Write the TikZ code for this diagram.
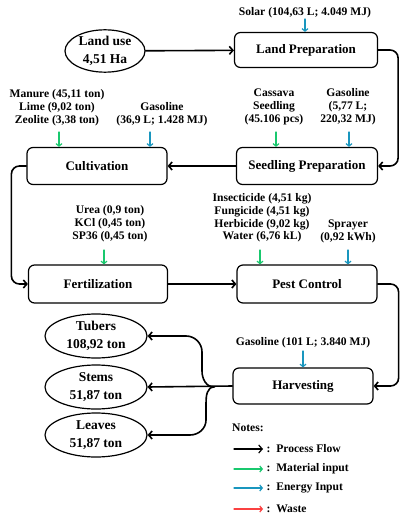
\documentclass[tikz,border=0pt]{standalone}
\usepackage{fontspec}
\setmainfont{Liberation Serif}
\usetikzlibrary{arrows.meta,shapes.geometric}
\definecolor{matgreen}{RGB}{25,200,110}
\definecolor{engblue}{RGB}{25,150,190}
\definecolor{wastered}{RGB}{250,65,65}
\tikzset{
	box/.style={draw,line width=1.2pt,rounded corners=6pt,minimum width=141pt,minimum height=37pt,font=\fontsize{13}{15}\selectfont\bfseries},
	ell/.style={draw,ellipse,line width=1.2pt,minimum width=102pt,minimum height=44pt,align=center,inner sep=0pt,font=\fontsize{13.5}{18.5}\selectfont\bfseries},
	lbl/.style={align=center,inner sep=0pt,font=\fontsize{11.6}{12.8}\selectfont\bfseries},
	flow/.style={line width=1.6pt,-{Straight Barb[length=3.5pt,width=8pt]}},
	matin/.style={matgreen,line width=1.2pt,-{Straight Barb[length=2.5pt,width=6pt]}},
	enin/.style={engblue,line width=1.2pt,-{Straight Barb[length=2.5pt,width=6pt]}},
	wst/.style={wastered,line width=1.2pt,-{Straight Barb[length=2.5pt,width=6pt]}}
}
\begin{document}
\begin{tikzpicture}[x=1pt,y=-1pt,line join=round,line cap=round]
	\useasboundingbox (0,0) rectangle (401,518);
	%%% process boxes
	\node[ell,minimum width=80pt,minimum height=40pt] (land) at (105,51) {Land use\\4,51 Ha};
	\node[box,minimum width=143pt,minimum height=35pt] (prep) at (306,50) {Land Preparation};
	\node[box] (seed) at (307,166) {Seedling Preparation};
	\node[box,minimum width=140pt] (cult) at (97,166) {Cultivation};
	\node[box,minimum width=139pt,minimum height=38pt] (fert) at (98,284) {Fertilization};
	\node[box,minimum width=140pt,minimum height=38pt] (pest) at (307,284) {Pest Control};
	\node[box,minimum width=140pt,minimum height=36pt] (harv) at (303,386) {Harvesting};
	%%% products
	\node[ell] (tub) at (96,336) {Tubers\\108,92 ton};
	\node[ell] (stm) at (96,387) {Stems\\51,87 ton};
	\node[ell] (leaf) at (96,435) {Leaves\\51,87 ton};
	%%% inputs
	\node[lbl] (solar) at (305,13) {Solar (104,63 L; 4.049 MJ)};
	\node[lbl] (manure) at (57,108) {Manure (45,11 ton)\\Lime (9,02 ton)\\Zeolite (3,38 ton)};
	\node[lbl] (gascult) at (162,114) {Gasoline\\(36,9 L; 1.428 MJ)};
	\node[lbl] (cassava) at (274,107) {Cassava\\Seedling\\(45.106 pcs)};
	\node[lbl] (gasseed) at (348,107) {Gasoline\\(5,77 L;\\220,32 MJ)};
	\node[lbl] (urea) at (110,224) {Urea (0,9 ton)\\KCl (0,45 ton)\\SP36 (0,45 ton)};
	\node[lbl] (insect) at (262,218) {Insecticide (4,51 kg)\\Fungicide (4,51 kg)\\Herbicide (9,02 kg)\\Water (6,76 kL)};
	\node[lbl] (spray) at (348,231) {Sprayer\\(0,92 kWh)};
	\node[lbl] (gasharv) at (303,343) {Gasoline (101 L; 3.840 MJ)};
	%%% input arrows
	\coordinate (a1) at (305,19);
	\coordinate (a2) at (59,132);
	\coordinate (a3) at (150,132);
	\coordinate (a4) at (276,132);
	\coordinate (a5) at (349,132);
	\coordinate (a6) at (104,250);
	\coordinate (a7) at (260,250);
	\coordinate (a8) at (348,250);
	\coordinate (a9) at (303,351);
	\draw[enin] (a1)--(a1|-prep.north);
	\draw[matin] (a2)--(a2|-cult.north);
	\draw[enin] (a3)--(a3|-cult.north);
	\draw[matin] (a4)--(a4|-seed.north);
	\draw[enin] (a5)--(a5|-seed.north);
	\draw[matin] (a6)--(a6|-fert.north);
	\draw[matin] (a7)--(a7|-pest.north);
	\draw[enin] (a8)--(a8|-pest.north);
	\draw[enin] (a9)--(a9|-harv.north);
	%%% process flow
	\draw[flow] (land)--(prep);
	\draw[flow,rounded corners=8pt] (prep.east)--++(20,0)|-(seed.east);
	\draw[flow] (seed)--(cult);
	\draw[flow,rounded corners=8pt] (cult.west)--++(-15,0)|-(fert.west);
	\draw[flow] (fert)--(pest);
	\draw[flow,rounded corners=8pt] (pest.east)--++(21,0)|-(harv.east);
	\coordinate (jn) at (214,387);
	\draw[flow] (harv.west)--(stm.east);
	\draw[flow] (jn) to[out=180,in=-90] (202,371)--(202,352) to[out=90,in=0] (186,336)--(tub.east);
	\draw[flow] (jn) to[out=180,in=90] (206,403)--(206,420) to[out=-90,in=0] (190,435)--(leaf.east);
	%%% notes
	\node[lbl,anchor=west] (notes) at (232,428) {Notes:};
	\foreach \y/\s/\t in {449/flow/Process Flow,469/matin/Material input,488/enin/Energy Input,509/wst/Waste}{
		\coordinate (l\y) at (234,\y);
		\draw[\s,line width=1.2pt] (l\y)--++(29,0) node[lbl,text=black,anchor=west,right=3pt] {:\ \ \t};
	}
\end{tikzpicture}
\end{document}
